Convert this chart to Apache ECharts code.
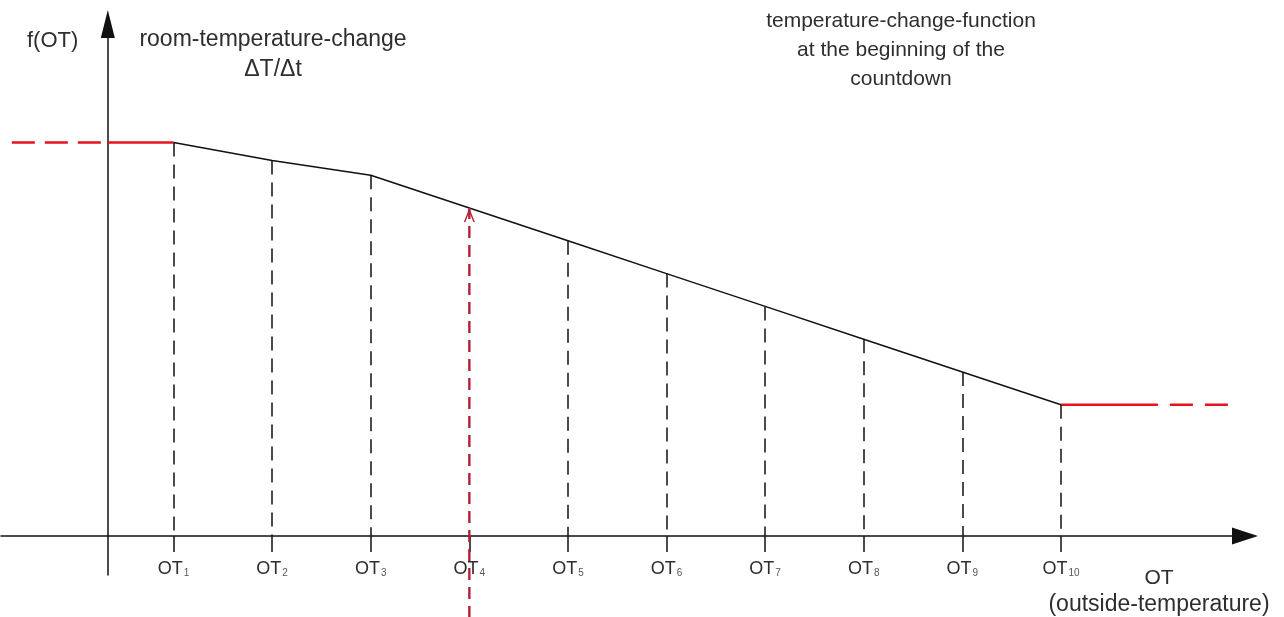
<!DOCTYPE html>
<html>
<head>
<meta charset="utf-8">
<script src="https://cdn.jsdelivr.net/npm/echarts@6/dist/echarts.min.js"></script>
<style>
  html, body { margin: 0; padding: 0; background: #fff; }
  #chart { width: 1284px; height: 617px; }
</style>
</head>
<body>
<div id="chart"></div>
<script>
// Outside-temperature breakpoints OT1..OT10 (x position on the OT scale)
const otX = [2, 5, 8, 11, 14, 17, 20, 23, 26, 29];
// Subscripts of the breakpoint labels
const otSubs = ['1', '2', '3', '4', '5', '6', '7', '8', '9', '10'];
// f(OT): room-temperature change at each breakpoint
const fVals = [12, 11.45, 11, 10, 9, 8, 7, 6, 5, 4];

// Reach of the constant (clamped) parts of the function beyond OT1 / OT10
const leftReach = -2.92;
const rightSolidEnd = 31.95;
const rightReach = 34.08;
// Lower end of the red marker arrow at OT4
const markerBottom = -2.5;
const markerIndex = 3;

const FONT = '"Liberation Sans", Arial, sans-serif';
const TEXT = '#2e2e2e';
const RED = '#e3141b';
const DARK_RED = '#b4203a';

const chart = echarts.init(document.getElementById('chart'), null, { renderer: 'canvas' });

const mainData = otX.map((x, i) => [x, fVals[i]]);

// dashed drop lines from each breakpoint down to the OT axis
// (the marked breakpoint gets the red arrow instead)
const dropLines = otX
  .map((x, i) => [{ coord: [x, fVals[i]] }, { coord: [x, 0] }])
  .filter((_, i) => i !== markerIndex);

// red marker pointing at the function value at OT4 (open chevron at the top)
const markerData = [
  { value: [otX[markerIndex], markerBottom], symbol: 'none' },
  {
    value: [otX[markerIndex], fVals[markerIndex]],
    symbol: 'path://M0,12 L5,0 L10,12 L8.6,12 L5,3.2 L1.4,12 Z',
    symbolSize: [11, 14],
    symbolOffset: [0, 7]
  }
];

const option = {
  backgroundColor: '#ffffff',
  animation: false,
  grid: { left: 1, top: 24, width: 1244, height: 551, containLabel: false, outerBoundsMode: 'none' },
  xAxis: {
    type: 'value',
    min: -3.25,
    max: 34.6,
    axisLine: {
      show: true,
      onZero: true,
      symbol: ['none', 'triangle'],
      symbolSize: [17, 26],
      lineStyle: { color: '#111', width: 1.5 }
    },
    axisTick: {
      show: true,
      customValues: otX,
      length: 16,
      lineStyle: { color: '#111', width: 1.5 }
    },
    axisLabel: {
      show: true,
      customValues: otX,
      margin: -19,
      formatter: function (v) {
        const i = otX.indexOf(v);
        return i < 0 ? '' : '{m|OT}{s|' + otSubs[i] + '}';
      },
      rich: {
        m: { fontFamily: FONT, fontSize: 18, color: TEXT, lineHeight: 22, verticalAlign: 'bottom' },
        s: { fontFamily: FONT, fontSize: 10, color: '#555', lineHeight: 22, verticalAlign: 'bottom', padding: [0, 0, 0, 1] }
      }
    },
    splitLine: { show: false }
  },
  yAxis: {
    type: 'value',
    min: -1.19,
    max: 15.61,
    axisLine: {
      show: true,
      onZero: true,
      symbol: ['none', 'triangle'],
      symbolSize: [14, 28],
      lineStyle: { color: '#111', width: 1.5 }
    },
    axisTick: { show: false },
    axisLabel: { show: false },
    splitLine: { show: false }
  },
  series: [
    {
      name: 'f(OT)',
      type: 'line',
      data: mainData,
      symbol: 'none',
      lineStyle: { color: '#111', width: 1.5 },
      z: 3,
      markLine: {
        silent: true,
        animation: false,
        symbol: ['none', 'none'],
        label: { show: false },
        lineStyle: { color: '#111', type: [14, 8], width: 1.5 },
        data: dropLines
      }
    },
    {
      name: 'OT4 marker',
      type: 'line',
      data: markerData,
      clip: false,
      showSymbol: true,
      showAllSymbol: true,
      itemStyle: { color: DARK_RED },
      lineStyle: { color: DARK_RED, width: 2.4, type: [12, 7] },
      z: 5
    },
    {
      name: 'lower clamp solid',
      type: 'line',
      data: [[0, fVals[0]], [otX[0], fVals[0]]],
      symbol: 'none',
      lineStyle: { color: RED, width: 2.5 },
      z: 4
    },
    {
      name: 'lower clamp dashed',
      type: 'line',
      data: [[leftReach, fVals[0]], [0, fVals[0]]],
      symbol: 'none',
      lineStyle: { color: RED, width: 2.5, type: [23, 10] },
      z: 4
    },
    {
      name: 'upper clamp solid',
      type: 'line',
      data: [[otX[otX.length - 1], fVals[fVals.length - 1]], [rightSolidEnd, fVals[fVals.length - 1]]],
      symbol: 'none',
      lineStyle: { color: RED, width: 2.5 },
      z: 4
    },
    {
      name: 'upper clamp dashed',
      type: 'line',
      data: [[rightSolidEnd, fVals[fVals.length - 1]], [rightReach, fVals[fVals.length - 1]]],
      symbol: 'none',
      lineStyle: { color: RED, width: 2.5, type: [23, 12], dashOffset: 23 },
      z: 4
    }
  ],
  graphic: [
    {
      type: 'text', left: 27, top: 30,
      style: { text: 'f(OT)', font: '22px ' + FONT, fill: TEXT }
    },
    {
      type: 'text', x: 273, y: 55,
      style: {
        text: 'room-temperature-change\nΔT/Δt', font: '23px ' + FONT, fill: TEXT,
        align: 'center', verticalAlign: 'middle', lineHeight: 30
      }
    },
    {
      type: 'text', x: 901, y: 50,
      style: {
        text: 'temperature-change-function\nat the beginning of the\ncountdown', font: '21px ' + FONT, fill: TEXT,
        align: 'center', verticalAlign: 'middle', lineHeight: 29
      }
    },
    {
      type: 'text', x: 1159, y: 578,
      style: { text: 'OT', font: '21px ' + FONT, fill: TEXT, align: 'center', verticalAlign: 'middle' }
    },
    {
      type: 'text', x: 1159, y: 605,
      style: { text: '(outside-temperature)', font: '23px ' + FONT, fill: TEXT, align: 'center', verticalAlign: 'middle' }
    }
  ]
};

chart.setOption(option);
</script>
</body>
</html>
